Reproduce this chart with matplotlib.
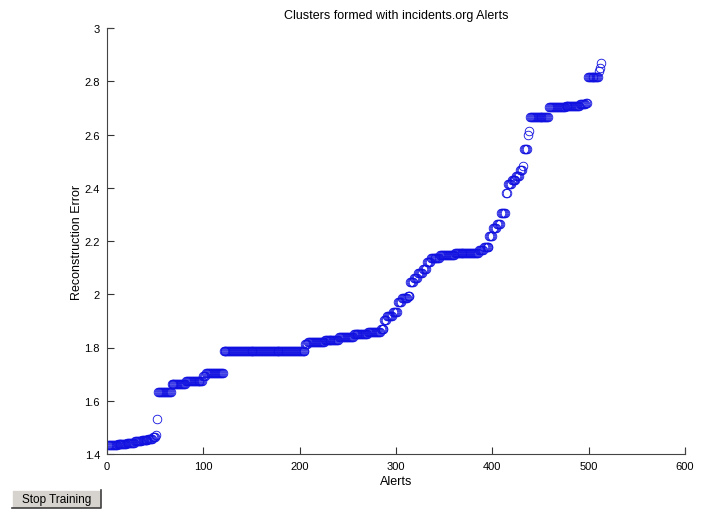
import numpy as np
import matplotlib
matplotlib.use("Agg")
import matplotlib.pyplot as plt
from matplotlib.ticker import FuncFormatter
from matplotlib.patches import Rectangle
from matplotlib.lines import Line2D

# Sorted reconstruction error, written as runs of (level, number of alerts)
levels = [1.432, 1.436, 1.441, 1.447, 1.452, 1.458, 1.465, 1.472, 1.531,
          1.631, 1.662, 1.673, 1.693, 1.703, 1.786,
          1.812, 1.822, 1.830, 1.840, 1.850, 1.858, 1.868,
          1.905, 1.920, 1.935, 1.970, 1.985, 1.995,
          2.045, 2.060, 2.080, 2.095, 2.120, 2.135, 2.147, 2.155, 2.165, 2.178,
          2.220, 2.250, 2.265, 2.305, 2.380, 2.415, 2.430, 2.445, 2.465, 2.480,
          2.545, 2.600, 2.615, 2.665, 2.703, 2.708, 2.715, 2.720,
          2.815, 2.840, 2.850, 2.868]
counts = [10, 10, 8, 7, 7, 5, 3, 1, 1,
          14, 15, 18, 3, 18, 85,
          3, 17, 15, 15, 15, 13, 4,
          3, 6, 5, 4, 6, 3,
          4, 4, 5, 4, 4, 10, 15, 25, 5, 6,
          4, 4, 4, 5, 2, 4, 5, 4, 3, 1,
          4, 1, 1, 20, 17, 15, 6, 2,
          12, 1, 1, 1]

xticks = [0, 100, 200, 300, 400, 500, 600]
yticks = [1.4, 1.6, 1.8, 2.0, 2.2, 2.4, 2.6, 2.8, 3.0]

title = "Clusters formed with incidents.org Alerts"
xlabel = "Alerts"
ylabel = "Reconstruction Error"

y = np.repeat(levels, counts)
x = np.arange(1, len(y) + 1)

plt.rcParams['font.family'] = ['Liberation Sans', 'DejaVu Sans']

fig = plt.figure(figsize=(7.04, 5.10), dpi=100)
fig.patch.set_facecolor('white')
ax = fig.add_axes([107/704, 55/510, 578/704, 426/510])

ax.plot(x, y, 'o', mfc='none', mec='#1010e0', ms=6.2, mew=0.6)

ax.set_xlim(0, 600)
ax.set_ylim(1.4, 3.0)
ax.set_xticks(xticks)
ax.set_yticks(yticks)
ax.yaxis.set_major_formatter(FuncFormatter(lambda v, p: f"{v:g}"))
ax.tick_params(direction='in', length=5, width=0.8, colors='#333333',
               labelsize=8, labelcolor='black', pad=5)
for s in ['top', 'right']:
    ax.spines[s].set_visible(False)
for s in ['left', 'bottom']:
    ax.spines[s].set_color('#444444')
    ax.spines[s].set_linewidth(0.8)

# small tick at top of y axis and right end of x axis (MATLAB style)
ax.add_line(Line2D([0, 5/578*600], [3.0, 3.0], color='#444444', lw=0.8,
                   clip_on=False))
ax.add_line(Line2D([600, 600], [1.4, 1.4 + 5/426*1.6], color='#444444', lw=0.8,
                   clip_on=False))

ax.set_title(title, fontsize=9, pad=7)
ax.set_xlabel(xlabel, fontsize=9, labelpad=3)
ax.set_ylabel(ylabel, fontsize=9, labelpad=1)

# "Stop Training" button
bx, by, bw, bh = 12/704, 1/510, 89/704, 18/510
fig.patches.append(Rectangle((bx, by), bw, bh, transform=fig.transFigure,
                             facecolor='#d6d3ce', edgecolor='none'))
fig.lines.append(Line2D([bx, bx, bx + bw], [by, by + bh, by + bh],
                        transform=fig.transFigure, color='white', lw=1.2))
fig.lines.append(Line2D([bx, bx + bw, bx + bw], [by, by, by + bh],
                        transform=fig.transFigure, color='#404040', lw=1.2))
fig.text(bx + bw/2, by + bh/2, "Stop Training", ha='center', va='center',
         fontsize=8.5)

fig.savefig("out.png", dpi=100, facecolor='white')
